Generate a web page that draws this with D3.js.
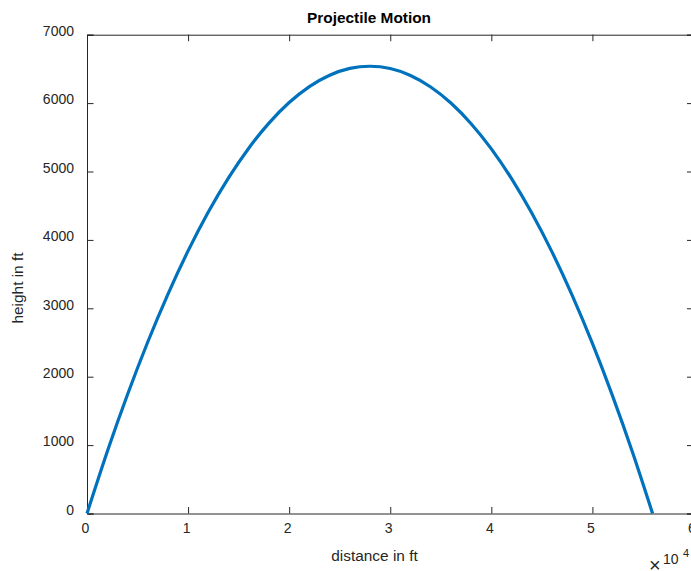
<!DOCTYPE html>
<html>
<head>
<meta charset="utf-8">
<script src="https://cdn.jsdelivr.net/npm/d3@7"></script>
<style>
  html, body { margin: 0; padding: 0; background: #ffffff; }
  svg { display: block; font-family: "Liberation Sans", Arial, Helvetica, sans-serif; }
</style>
</head>
<body>
<svg id="chart" width="691" height="571"></svg>
<script>
// ---- data ----
const distanceFt = [0, 2000, 4000, 6000, 8000, 10000, 12000, 14000, 16000, 18000, 20000,
  22000, 24000, 26000, 28000, 30000, 32000, 34000, 36000, 38000, 40000,
  42000, 44000, 46000, 48000, 50000, 52000, 54000, 55950];
const heightFt = [0, 902, 1736, 2504, 3205, 3839, 4407, 4907, 5341, 5708, 6008,
  6241, 6407, 6507, 6539, 6505, 6404, 6236, 6001, 5699, 5331,
  4896, 4393, 3825, 3189, 2486, 1716, 880, 0];
const xTicks = [0, 10000, 20000, 30000, 40000, 50000, 60000];
const xTickLabels = ["0", "1", "2", "3", "4", "5", "6"];
const yTicks = [0, 1000, 2000, 3000, 4000, 5000, 6000, 7000];
const yTickLabels = ["0", "1000", "2000", "3000", "4000", "5000", "6000", "7000"];
const titleText = "Projectile Motion";
const xLabelText = "distance in ft";
const yLabelText = "height in ft";
const exponentBase = "10";
const exponentText = "4";

// ---- layout ----
const plotLeft = 87, plotRight = 693.5, plotTop = 34.7, plotBottom = 513.5;
const axisColor = "#262626";
const lineColor = "#0072BD";
const tickLen = 6.5;

const svg = d3.select("#chart");

const x = d3.scaleLinear().domain([0, 60000]).range([plotLeft, plotRight]);
const y = d3.scaleLinear().domain([0, 7000]).range([plotBottom, plotTop]);

// axes box and ticks
const gBottom = svg.append("g").attr("transform", `translate(0,${plotBottom})`)
  .call(d3.axisBottom(x).tickValues(xTicks).tickSize(-tickLen).tickPadding(10)
    .tickFormat((d, i) => xTickLabels[i]));
const gTop = svg.append("g").attr("transform", `translate(0,${plotTop})`)
  .call(d3.axisTop(x).tickValues(xTicks).tickSize(-tickLen).tickFormat(""));
const gLeft = svg.append("g").attr("transform", `translate(${plotLeft},0)`)
  .call(d3.axisLeft(y).tickValues(yTicks).tickSize(-tickLen).tickPadding(13)
    .tickFormat((d, i) => yTickLabels[i]));
const gRight = svg.append("g").attr("transform", `translate(${plotRight},0)`)
  .call(d3.axisRight(y).tickValues(yTicks).tickSize(-tickLen).tickFormat(""));

[gBottom, gTop, gLeft, gRight].forEach(g => {
  g.select(".domain").attr("stroke", axisColor).attr("stroke-width", 1);
  g.selectAll(".tick line").attr("stroke", axisColor).attr("stroke-width", 1);
  g.selectAll(".tick text").attr("fill", axisColor)
    .style("font-size", "14px")
    .style("font-family", '"Liberation Sans", Arial, Helvetica, sans-serif');
});
gBottom.selectAll(".tick text").attr("dx", "-2");
gLeft.selectAll(".tick text").attr("dy", "0.05em");

// the curve
const line = d3.line()
  .x((d, i) => x(distanceFt[i]))
  .y((d, i) => y(heightFt[i]))
  .curve(d3.curveNatural);

svg.append("path")
  .datum(heightFt)
  .attr("d", line)
  .attr("fill", "none")
  .attr("stroke", lineColor)
  .attr("stroke-width", 3.2)
  .attr("stroke-linejoin", "round");

// title
svg.append("text")
  .attr("x", 369).attr("y", 22.7)
  .attr("text-anchor", "middle")
  .attr("fill", "#000")
  .style("font-size", "15.4px")
  .style("font-weight", "bold")
  .text(titleText);

// x label
svg.append("text")
  .attr("x", 374.5).attr("y", 560.5)
  .attr("text-anchor", "middle")
  .attr("fill", axisColor)
  .style("font-size", "15.4px")
  .text(xLabelText);

// y label
svg.append("text")
  .attr("transform", "translate(23,288) rotate(-90)")
  .attr("text-anchor", "middle")
  .attr("fill", axisColor)
  .style("font-size", "15.4px")
  .text(yLabelText);

// exponent marker  ×10^4
svg.append("text")
  .attr("x", 649).attr("y", 572)
  .attr("fill", axisColor)
  .style("font-size", "20px")
  .style("font-weight", "300")
  .text("\u00D7");
svg.append("text")
  .attr("x", 663).attr("y", 564)
  .attr("fill", axisColor)
  .style("font-size", "14px")
  .text(exponentBase);
svg.append("text")
  .attr("x", 683).attr("y", 557)
  .attr("fill", axisColor)
  .style("font-size", "11px")
  .text(exponentText);
</script>
</body>
</html>
